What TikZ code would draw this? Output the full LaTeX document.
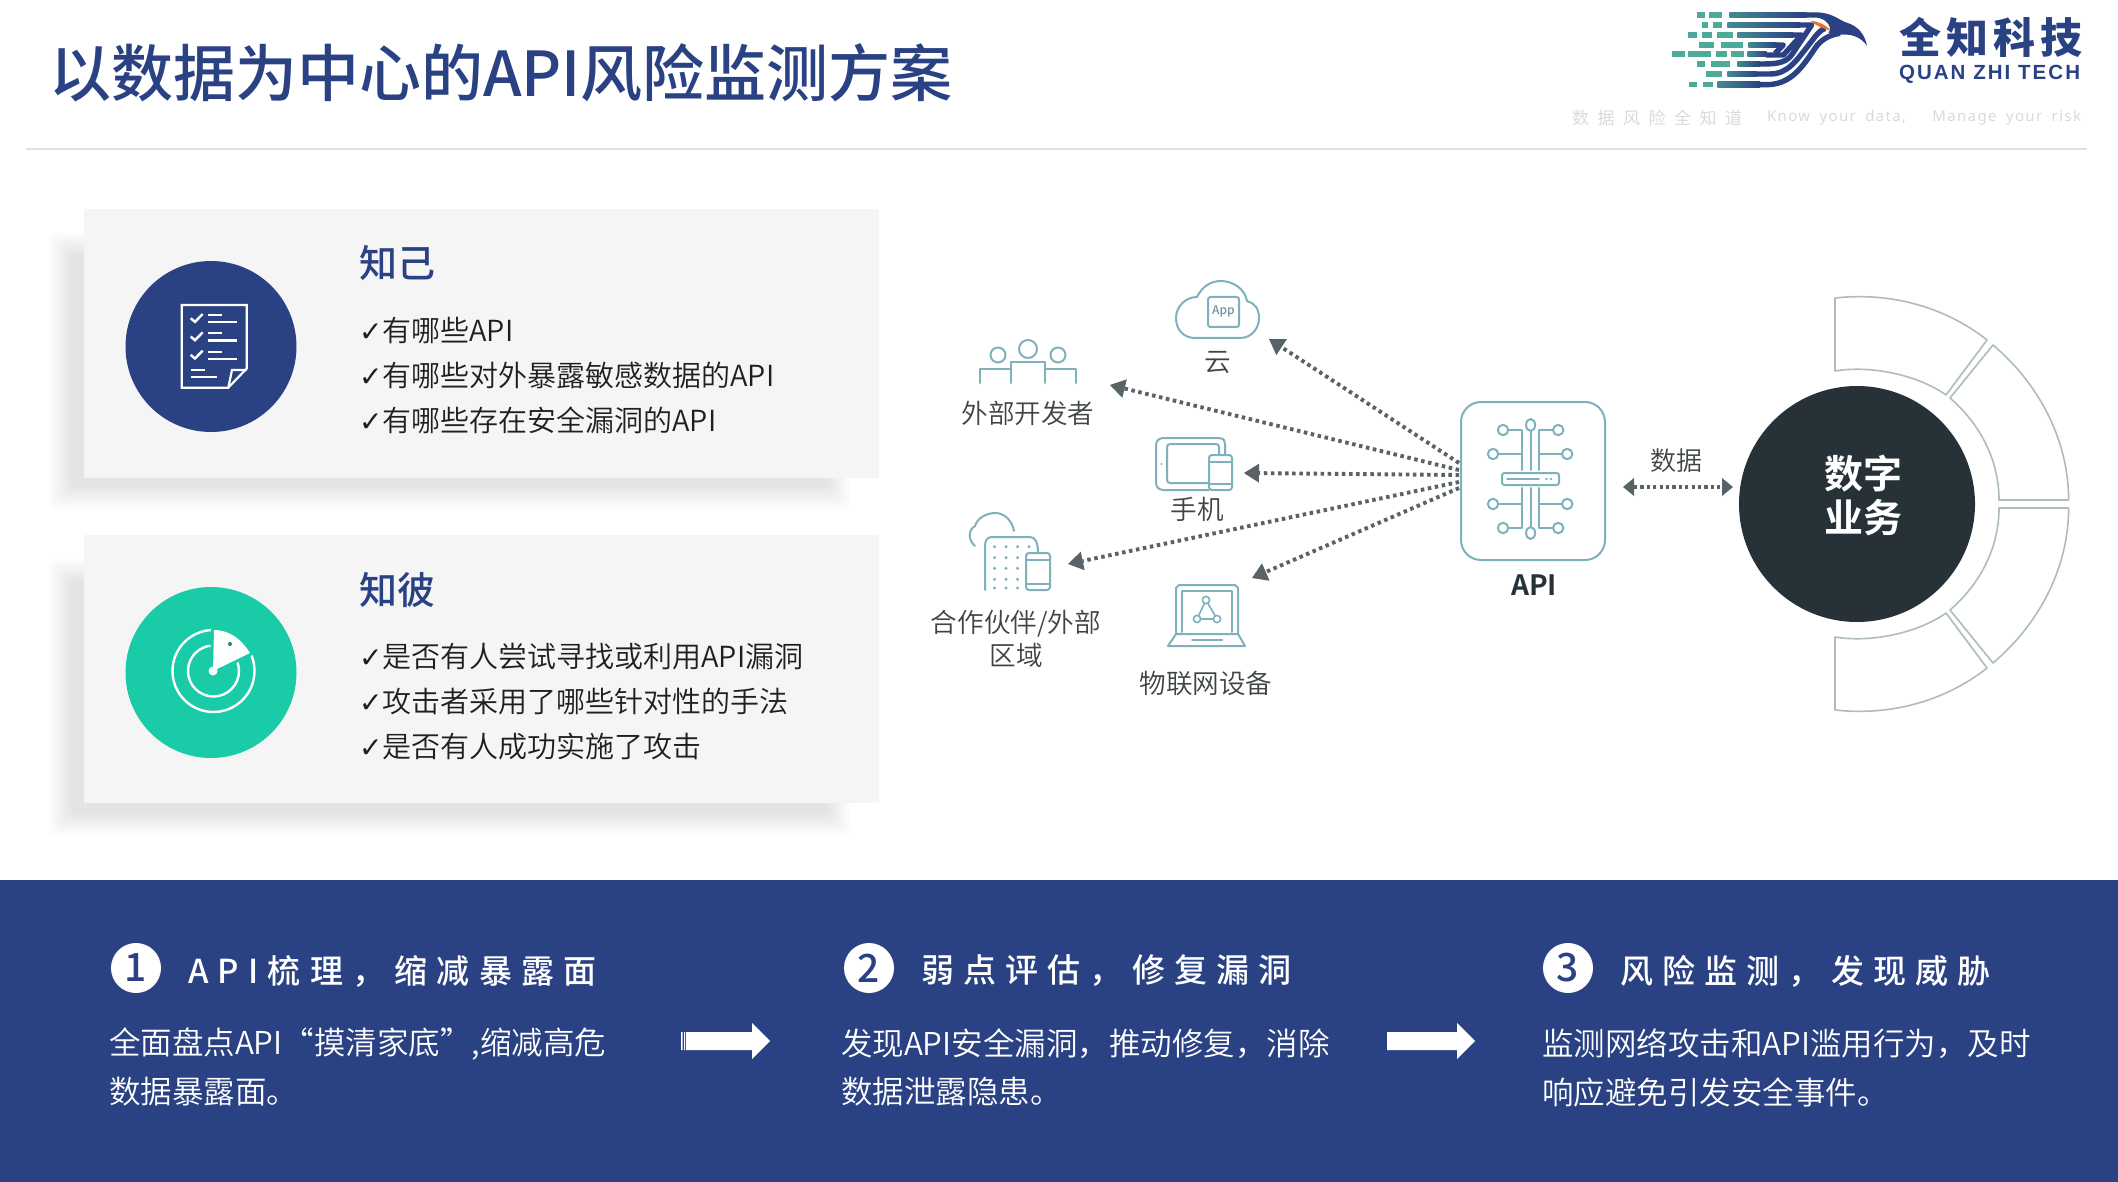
\documentclass[tikz,border=0pt]{standalone}
\usepackage{fontspec}
\setmainfont{Noto Sans CJK SC}[UprightFont=* DemiLight,BoldFont=* Medium]
\newfontfamily\chkfont{DejaVu Sans}
\newfontfamily\heavyfont{Noto Sans CJK SC}[UprightFont=* Bold]
\newfontfamily\headfont{Noto Sans CJK SC}[UprightFont=* Medium,BoldFont=* Medium,LetterSpace=28]
\newfontfamily\logocn{Noto Sans CJK SC}[LetterSpace=12]
\newfontfamily\logoen{Liberation Sans}[LetterSpace=10]
\newfontfamily\tagfont{Noto Sans CJK SC}[LetterSpace=50]
\newfontfamily\tagen{Noto Sans}[LetterSpace=9,WordSpace=1.8]
\usetikzlibrary{arrows.meta,calc}
\definecolor{navy}{HTML}{2A4283}
\definecolor{mint}{HTML}{19CBA6}
\definecolor{cardbg}{HTML}{F5F5F6}
\definecolor{iconline}{HTML}{7FB1BD}
\definecolor{ringline}{HTML}{AEBCC0}
\definecolor{dark}{HTML}{263238}
\definecolor{arrowgrey}{HTML}{596367}
\definecolor{labelgrey}{HTML}{3F4547}
\definecolor{tagline}{HTML}{DADADA}
\definecolor{logoteal}{HTML}{4DAA98}
\definecolor{logoorange}{HTML}{E8702A}
\newcommand{\fs}[1]{\fontsize{#1}{#1}\selectfont}
\newcommand{\softshadow}[4]{%
  \foreach \i in {0,...,10}{%
    \pgfmathsetmacro\shd{\i*1.05}%
    \pgfmathsetmacro\ins{\i*2.4}%
    \fill[black!\shd,rounded corners=6pt] ({#1+\ins},{#2+\ins}) rectangle ({#3-\ins},{#4-\ins});
  }}
\tikzset{
  txt/.style={inner sep=0pt,outer sep=0pt},
  item/.style={txt,anchor=west,text=black!88,font=\fs{29}},
  cardtitle/.style={txt,anchor=west,text=navy,font=\fs{38}\bfseries},
  card/.style={fill=cardbg,draw=none},
  icon/.style={draw=iconline,line width=2pt,line join=round,line cap=round},
  whiteicon/.style={draw=white,line width=2.2pt,line join=miter},
  ring/.style={draw=ringline,line width=1.6pt,line join=round,fill=white},
  label/.style={txt,text=labelgrey,font=\fs{26.6}},
  dotarrow/.style={draw=arrowgrey,line width=3.9pt,dash pattern=on 3.5pt off 3.6pt,-{Triangle[length=15pt,width=19pt,fill=arrowgrey,line width=0pt]}},
  dotboth/.style={draw=arrowgrey,line width=3.4pt,dash pattern=on 3.2pt off 3.2pt,{Triangle[length=11pt,width=18pt,fill=arrowgrey,line width=0pt]}-{Triangle[length=11pt,width=18pt,fill=arrowgrey,line width=0pt]}},
  stephead/.style={txt,anchor=west,text=white,font=\fs{33}\headfont},
  stepbody/.style={txt,anchor=west,text=white,font=\fs{31.5}},
  stepnum/.style={circle,fill=white,minimum size=50pt,inner sep=0pt,text=navy,font=\fs{39}\bfseries},
  flowarrow/.style={fill=white,draw=none},
  logostroke/.style={draw=navy,line width=5.4pt,line cap=butt,line join=round},
  logobar/.style={fill=logoteal,draw=none},
}
\begin{document}
\begin{tikzpicture}[x=1pt,y=-1pt]
\useasboundingbox (0,0) rectangle (2118,1182);
\fill[white] (0,0) rectangle (2118,1182);

% ---- header ----
\node[txt,anchor=west,text=navy,font=\fs{62}\bfseries] (title) at (49,73) {以数据为中心的API风险监测方案};
\draw[draw=black!12,line width=1.5pt] (26,149) -- (2087,149);

% logo mark
\begin{scope}[shift={(1620,0)},x=0.3333pt,y=-0.3333pt]
  \foreach \a/\b/\yy in {232/255/45,268/305/45,247/265/75,280/305/75,205/232/105,245/275/105,290/340/105,237/283/135,302/368/135,157/195/162,205/273/162,288/322/162,333/372/162,232/255/192,272/330/192,258/305/222,208/230/254,250/280/254}{
    \fill[logoteal] (\a,\yy-8) rectangle (\b,\yy+8);
  }
  \shade[left color=logoteal!70!navy,right color=navy] (328,37) rectangle (560,53);
  \shade[left color=logoteal!70!navy,right color=navy] (322,67) rectangle (540,83);
  \shade[left color=logoteal!70!navy,right color=navy] (352,97) rectangle (520,113);
  \shade[left color=logoteal!70!navy,right color=navy] (385,127) rectangle (470,143);
  \shade[left color=logoteal!70!navy,right color=navy] (382,154) rectangle (440,170);
  \shade[left color=logoteal!70!navy,right color=navy] (352,184) rectangle (420,200);
  \shade[left color=logoteal!70!navy,right color=navy] (322,214) rectangle (410,230);
  \shade[left color=logoteal!70!navy,right color=navy] (292,246) rectangle (420,262);
  \draw[logostroke] (538,75) -- (575,75) -- (515,165) .. controls (495,192) and (460,192) .. (418,192);
  \draw[logostroke] (518,105) -- (545,105) -- (490,165) -- (438,165);
  \draw[logostroke] (468,135) -- (490,135) -- (465,160);
  \draw[logostroke] (408,222) -- (450,222) .. controls (505,222) and (530,180) .. (570,130) .. controls (585,110) and (600,90) .. (615,85);
  \draw[logostroke] (418,254) -- (440,254) .. controls (510,254) and (545,205) .. (585,145) .. controls (600,122) and (625,105) .. (660,100);
  \fill[navy] (558,37) -- (595,37) .. controls (640,40) and (660,62) .. (680,68) .. controls (715,78) and (735,105) .. (741,137) .. controls (725,115) and (700,102) .. (670,104) .. controls (650,105) and (640,100) .. (625,98) .. controls (640,85) and (620,55) .. (590,53) -- (558,53) -- cycle;
  \fill[logoorange] (572,62) .. controls (595,65) and (615,72) .. (632,92) .. controls (610,85) and (590,80) .. (572,62) -- cycle;
\end{scope}
\node[txt,anchor=west,text=navy,font=\fs{42}\bfseries\logocn] (logocn) at (1899,37) {全知科技};
\node[txt,anchor=west,text=navy,font=\fs{20.5}\bfseries\logoen] (logoen) at (1899,74) {QUAN ZHI TECH};
\node[txt,anchor=west,text=tagline,font=\fs{17}\tagfont] (tagcn) at (1572,118) {数据风险全知道};
\node[txt,anchor=west,text=tagline,font=\fs{15}\tagen] (tagen1) at (1767,118) {Know your data,};
\node[txt,anchor=east,text=tagline,font=\fs{15}\tagen] (tagen2) at (2081,118) {Manage your risk};

% ---- cards ----
\softshadow{47}{230}{852}{511}
\softshadow{47}{557}{852}{838}
\fill[card] (84,209) rectangle (879,478);
\fill[card] (84,535) rectangle (879,803);

\fill[navy] (211,346.5) circle[radius=85.5pt];
\fill[mint] (211,672.5) circle[radius=85.5pt];

% checklist icon
\draw[whiteicon] (181.7,305) -- (246.7,305) -- (246.7,368.5) -- (228.3,387.7) -- (181.7,387.7) -- cycle;
\draw[whiteicon] (246.7,370) -- (232,370) -- (228.3,387.7);
\foreach \d in {0,18.3,36.6}{
  \draw[white,line width=2.4pt] (190.7,318.3+\d) -- (195,321.9+\d) -- (202.7,314+\d);
  \draw[white,line width=2.2pt] (208.3,315+\d) -- (221.7,315+\d) (208.3,322.3+\d) -- (237.3,322.3+\d);
}
\draw[white,line width=2.2pt] (190.7,370) -- (205,370) (190.7,376.7) -- (216.7,376.7);

% radar icon
\begin{scope}[shift={(1,0)}]
\draw[white,line width=2.4pt] (212.5,671) circle[radius=41pt];
\draw[white,line width=2.4pt] (212.5,671) circle[radius=25.5pt];
\path[draw=mint,line width=6pt,line join=round] (212,671) -- (213,630) .. controls (229,630) and (241,640) .. (249,653) -- cycle;
\fill[white] (212,671) -- (213,630) .. controls (229,630) and (241,640) .. (249,653) -- cycle;
\fill[white] (212,671) circle[radius=4.5pt];
\fill[mint!70!black] (229,644) circle[radius=2pt];
\end{scope}

\node[cardtitle] (t1) at (359,263) {知己};
\node[item] (a1) at (359,330.5) {{\chkfont\fs{28}✓}有哪些API};
\node[item] (a2) at (359,375.5) {{\chkfont\fs{28}✓}有哪些对外暴露敏感数据的API};
\node[item] (a3) at (359,420.5) {{\chkfont\fs{28}✓}有哪些存在安全漏洞的API};

\node[cardtitle] (t2) at (359,590) {知彼};
\node[item] (b1) at (359,656.5) {{\chkfont\fs{28}✓}是否有人尝试寻找或利用API漏洞};
\node[item] (b2) at (359,701.5) {{\chkfont\fs{28}✓}攻击者采用了哪些针对性的手法};
\node[item] (b3) at (359,746.5) {{\chkfont\fs{28}✓}是否有人成功实施了攻击};

% ---- diagram: end points ----
\coordinate (hubA) at (1459,463);
\coordinate (hubB) at (1459,470);
\coordinate (hubC) at (1459,475);
\coordinate (hubD) at (1459,482);
\coordinate (hubE) at (1459,488);
\coordinate (tipCloud) at (1269,339);
\coordinate (tipDev) at (1110,385);
\coordinate (tipPhone) at (1244,473);
\coordinate (tipPartner) at (1068,564);
\coordinate (tipIot) at (1252,578);
\coordinate (dataL) at (1623,487);
\coordinate (dataR) at (1733,487);

% cloud
\draw[icon] (1195,338) -- (1240,338) .. controls (1252,338) and (1259,328) .. (1259,318) .. controls (1259,308) and (1254,303) .. (1247,301) .. controls (1245,289) and (1233,281) .. (1221,281) .. controls (1210,281) and (1202,287) .. (1197,297) .. controls (1186,297) and (1176,306) .. (1176,318) .. controls (1176,330) and (1184,338) .. (1195,338) -- cycle;
\draw[icon,rounded corners=2.5pt] (1208,297) rectangle (1239,327);
\node[txt,text=iconline!85!black,font=\fs{12}\bfseries] (appl) at (1223.5,311) {App};
\node[label] (lcloud) at (1218,363) {云};

% people
\draw[icon] (1028,349) circle[radius=9pt] (998,355) circle[radius=7.5pt] (1058,355) circle[radius=7.5pt];
\draw[icon] (1011,383) -- (1011,362) -- (1045,362) -- (1045,383);
\draw[icon] (980,383) -- (980,369) -- (1011,369);
\draw[icon] (1045,369) -- (1076,369) -- (1076,383);
\node[label] (ldev) at (1028,413) {外部开发者};

% tablet and phone
\draw[icon,rounded corners=3pt] (1209,490) -- (1160,490) -- (1156,486) -- (1156,442) -- (1160,438) -- (1222,438) -- (1225,441) -- (1225,455);
\draw[icon,rounded corners=3pt] (1209,483) -- (1167,483) -- (1167,444) -- (1219,444) -- (1219,455);
\draw[icon,rounded corners=3pt] (1209,455) rectangle (1232,490);
\draw[icon] (1209,462) -- (1232,462) (1209,484) -- (1232,484);
\fill[iconline] (1161.5,464) circle[radius=1.2pt];
\node[label] (lphone) at (1197,509) {手机};

% building
\draw[icon] (985,590) -- (985,545) .. controls (985,540) and (988,537) .. (992,537) -- (1030,537) .. controls (1035,537) and (1038,542) .. (1038,553);
\draw[icon] (975,546) .. controls (968,540) and (968,530) .. (975,526) .. controls (977,518) and (987,513) .. (995,513) .. controls (1004,513) and (1012,520) .. (1014,531);
\foreach \xx in {994.5,1006,1017.5}{\foreach \yy in {546.7,557.7,568.3,579.3,588}{\fill[iconline] (\xx,\yy) circle[radius=1.7pt];}}
\fill[iconline] (1029,546.7) circle[radius=1.7pt];
\draw[icon,rounded corners=3pt] (1026,553) rectangle (1050,590);
\draw[icon] (1026,560) -- (1050,560) (1026,584) -- (1050,584);
\node[label] (lpart1) at (1016,624) {合作伙伴/外部};
\node[label] (lpart2) at (1016,655) {区域};

% laptop
\draw[icon] (1176,634) -- (1176,588) -- (1179,585) -- (1235,585) -- (1238,588) -- (1238,634);
\draw[icon] (1182,632) -- (1182,591) -- (1232,591) -- (1232,632);
\draw[icon] (1176,634) -- (1238,634) -- (1245,646) -- (1168,646) -- cycle;
\draw[icon] (1192,640) -- (1222,640);
\draw[icon,line width=1.6pt,fill=white] (1206,600) -- (1197,619) -- (1217,619) -- cycle;
\draw[icon,line width=1.6pt,fill=white] (1206,600) circle[radius=3.6pt] (1197,619) circle[radius=3.6pt] (1217,619) circle[radius=3.6pt];
\node[label] (liot) at (1206,683) {物联网设备};

% API box
\node[draw=iconline,line width=2pt,rounded corners=20pt,minimum width=144pt,minimum height=158pt,inner sep=0pt,fill=white] (api) at (1533,481) {};
\foreach \sgn in {1,-1}{
\begin{scope}[shift={(1530.6,479)},yscale=\sgn]
  \draw[icon] (0,-9) -- (0,-48);
  \draw[icon,fill=white] (0,-54) ellipse[x radius=4.5pt,y radius=6pt];
  \draw[icon] (-9,-9) -- (-9,-49) -- (-22,-49);
  \draw[icon] (8.6,-9) -- (8.6,-49) -- (21,-49);
  \draw[icon] (-9,-25) -- (-32,-25);
  \draw[icon] (8.6,-25) -- (31,-25);
  \draw[icon,fill=white] (-27.6,-49) circle[radius=5.2pt] (27.6,-49) circle[radius=5.2pt] (-37.6,-25) circle[radius=5.2pt] (36.6,-25) circle[radius=5.2pt];
\end{scope}}
\draw[icon,rounded corners=2.5pt,fill=white] (1502,473) rectangle (1559,485);
\draw[icon,line width=1.8pt] (1507,479) -- (1539,479);
\fill[iconline] (1546.5,479) circle[radius=1.3pt] (1551,479) circle[radius=1.3pt];
\node[txt,text=dark,font=\fs{28}\heavyfont] (apil) at (1534,585) {API};

% connectors
\draw[dotarrow] (hubA) -- (tipCloud);
\draw[dotarrow] (hubB) -- (tipDev);
\draw[dotarrow] (hubC) -- (tipPhone);
\draw[dotarrow] (hubD) -- (tipPartner);
\draw[dotarrow] (hubE) -- (tipIot);
\draw[dotboth] (dataL) -- (dataR);
\node[label,font=\fs{26}] (ldata) at (1676,461) {数据};

% ring
\newcommand{\ringtop}{(1835,298) .. controls (1889,292) and (1944,306) .. (1987,340) -- (1946,395) .. controls (1918,375) and (1871,365) .. (1835,371) -- cycle}
\newcommand{\ringright}{(1993,345) .. controls (2039,384) and (2068.6,440) .. (2068.6,500) -- (1999,500) .. controls (1999,460) and (1980,424) .. (1950,398) -- cycle}
\draw[ring] \ringtop;
\draw[ring] \ringright;
\begin{scope}[shift={(0,1008)},yscale=-1]
  \draw[ring] \ringtop;
  \draw[ring] \ringright;
\end{scope}
\node[circle,fill=dark,minimum size=236pt,inner sep=0pt] (biz) at (1857,504) {};
\node[txt,text=white,font=\fs{39}\heavyfont] (biz1) at (1863,474) {数字};
\node[txt,text=white,font=\fs{39}\heavyfont] (biz2) at (1863,518) {业务};

% ---- bottom band ----
\fill[navy] (0,880) rectangle (2118,1182);
\node[stepnum] (n1) at (136,968) {1};
\node[stepnum] (n2) at (869,968) {2};
\node[stepnum] (n3) at (1568,968) {3};
\node[stephead] (h1) at (188,971) {API梳理，缩减暴露面};
\node[stephead] (h2) at (921,971) {弱点评估，修复漏洞};
\node[stephead] (h3) at (1620,971) {风险监测，发现威胁};
\node[stepbody] (p11) at (109,1044) {全面盘点API“摸清家底”,缩减高危};
\node[stepbody] (p12) at (109,1092) {数据暴露面。};
\node[stepbody] (p21) at (841,1044) {发现API安全漏洞，推动修复，消除};
\node[stepbody] (p22) at (841,1092) {数据泄露隐患。};
\node[stepbody] (p31) at (1542,1044) {监测网络攻击和API滥用行为，及时};
\node[stepbody] (p32) at (1542,1092) {响应避免引发安全事件。};
\fill[flowarrow] (686,1032) -- (752,1032) -- (752,1023) -- (770,1041) -- (752,1059) -- (752,1050) -- (686,1050) -- cycle;
\fill[flowarrow] (681,1032) rectangle (682.5,1050) (684,1032) rectangle (685,1050);
\fill[flowarrow] (1387,1032) -- (1457,1032) -- (1457,1023) -- (1475,1041) -- (1457,1059) -- (1457,1050) -- (1387,1050) -- cycle;
\end{tikzpicture}
\end{document}
